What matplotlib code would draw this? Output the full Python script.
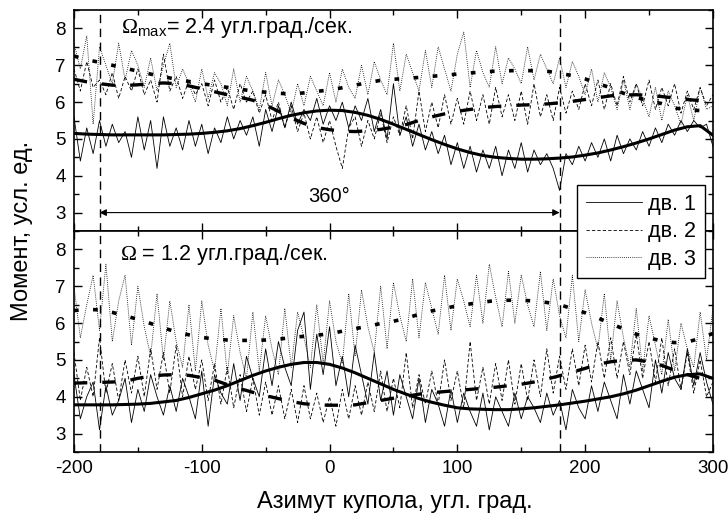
import numpy as np
import matplotlib
matplotlib.use("Agg")
import matplotlib.pyplot as plt
from matplotlib.ticker import MultipleLocator

plt.rcParams['font.family'] = ['Liberation Sans', 'DejaVu Sans']
plt.rcParams['mathtext.fontset'] = 'custom'
plt.rcParams['mathtext.rm'] = 'Liberation Serif'
plt.rcParams['mathtext.sf'] = 'Liberation Sans'
plt.rcParams['axes.unicode_minus'] = False

# азимут для шумных записей (шаг 5 град) и для сглаженных кривых (шаг 10 град)
az_raw = np.arange(-200, 301, 5)
az_fit = np.arange(-200, 301, 10)

# --- верхняя панель: Omega_max = 2.4 ---
top_dv1 = [5.6, 4.4, 5.3, 4.6, 5.5, 4.8, 5.4, 4.9, 5.2, 4.5, 5.6, 4.7, 5.5, 4.2, 5.6, 4.8, 5.3, 4.7,
           5.5, 4.8, 5.4, 4.6, 5.3, 4.9, 5.6, 5.0, 5.5, 5.1, 5.6, 4.8, 5.8, 5.2, 5.9, 5.3, 6.0, 5.4,
           5.8, 5.5, 6.1, 5.4, 5.9, 5.5, 6.0, 5.3, 5.9, 5.5, 6.1, 5.2, 5.8, 5.0, 6.5, 5.1, 5.6, 4.8,
           5.4, 4.7, 5.2, 4.6, 5.1, 4.3, 4.9, 4.2, 4.8, 4.1, 4.7, 4.2, 4.8, 4.0, 4.7, 4.2, 4.9, 4.1,
           4.7, 4.3, 4.6, 4.2, 3.6, 4.6, 4.3, 4.8, 4.4, 4.9, 4.5, 5.0, 4.4, 5.1, 4.6, 5.0, 4.7, 5.2,
           4.8, 5.3, 4.9, 5.4, 5.1, 5.5, 5.2, 5.5, 5.3, 5.4, 4.8]
top_dv2 = [6.9, 6.3, 7.1, 6.4, 6.6, 6.2, 6.8, 6.1, 6.7, 6.3, 6.9, 6.2, 6.6, 6.0, 7.3, 6.3, 6.7, 6.1,
           6.6, 6.2, 6.5, 5.9, 6.6, 6.0, 6.4, 5.8, 6.5, 6.0, 6.3, 5.7, 6.2, 5.5, 6.0, 5.3, 5.9, 5.2,
           5.7, 5.0, 5.6, 4.9, 5.5, 4.8, 4.2, 5.3, 5.6, 4.8, 5.5, 5.0, 5.7, 4.9, 5.6, 5.1, 5.9, 5.0,
           6.3, 5.2, 6.0, 5.3, 6.2, 5.4, 6.1, 5.4, 6.3, 5.5, 6.2, 5.4, 6.4, 5.6, 6.2, 5.5, 6.3, 5.4,
           6.5, 5.6, 6.2, 5.5, 6.4, 5.7, 6.3, 5.8, 6.5, 5.9, 6.6, 5.8, 6.5, 5.9, 6.7, 6.0, 6.5, 5.9,
           6.6, 5.8, 6.4, 5.9, 6.5, 5.7, 6.3, 5.8, 6.4, 5.9, 6.2]
top_dv3 = [7.6, 6.9, 7.8, 5.4, 7.5, 7.0, 6.5, 7.6, 6.6, 7.4, 7.0, 6.4, 7.2, 6.3, 7.0, 7.6, 6.4, 6.9,
           6.5, 6.0, 6.9, 6.1, 6.8, 6.5, 5.9, 6.9, 6.0, 6.7, 6.3, 5.8, 6.8, 5.9, 6.6, 6.2, 5.7, 6.5,
           5.9, 6.7, 6.3, 5.9, 6.8, 6.0, 6.9, 6.4, 6.1, 7.0, 6.2, 7.1, 6.6, 6.2, 7.6, 6.3, 7.3, 6.8,
           6.3, 7.4, 6.4, 7.5, 6.9, 6.3, 7.3, 7.9, 6.4, 7.4, 6.8, 6.4, 7.5, 6.5, 7.2, 6.9, 6.5, 7.5,
           6.6, 7.3, 6.9, 6.5, 7.2, 6.4, 7.1, 6.7, 6.2, 6.9, 6.0, 6.8, 6.4, 5.8, 6.6, 5.8, 6.5, 6.1,
           5.6, 6.4, 5.5, 6.3, 5.9, 5.4, 6.2, 5.5, 6.4, 5.8, 5.9]
top_dv1_fit = [5.15, 5.13, 5.12, 5.11, 5.11, 5.11, 5.11, 5.11, 5.12, 5.13, 5.15, 5.18, 5.22, 5.28,
               5.36, 5.45, 5.55, 5.64, 5.71, 5.76, 5.78, 5.77, 5.72, 5.64, 5.53, 5.40, 5.26, 5.12,
               4.98, 4.85, 4.73, 4.63, 4.55, 4.50, 4.47, 4.45, 4.45, 4.46, 4.48, 4.51, 4.56, 4.62,
               4.70, 4.79, 4.89, 5.00, 5.12, 5.24, 5.33, 5.36, 5.10]
top_dv2_fit = [6.62, 6.55, 6.50, 6.46, 6.45, 6.47, 6.50, 6.52, 6.50, 6.44, 6.36, 6.28, 6.20, 6.13,
               6.05, 5.92, 5.75, 5.57, 5.42, 5.31, 5.25, 5.21, 5.20, 5.22, 5.26, 5.32, 5.39, 5.50,
               5.60, 5.68, 5.75, 5.80, 5.85, 5.88, 5.90, 5.92, 5.93, 5.95, 5.98, 6.02, 6.07, 6.12,
               6.17, 6.19, 6.20, 6.18, 6.15, 6.11, 6.07, 6.04, 6.02]
top_dv3_fit = [7.25, 7.15, 7.08, 7.00, 6.92, 6.84, 6.76, 6.69, 6.62, 6.56, 6.50, 6.45, 6.40, 6.35,
               6.30, 6.27, 6.24, 6.22, 6.25, 6.29, 6.33, 6.39, 6.46, 6.53, 6.59, 6.62, 6.64, 6.67,
               6.70, 6.73, 6.76, 6.79, 6.82, 6.84, 6.85, 6.86, 6.85, 6.84, 6.78, 6.72, 6.63, 6.50,
               6.39, 6.24, 6.13, 6.03, 5.96, 5.84, 5.79, 5.77, 5.85]

# --- нижняя панель: Omega = 1.2 ---
bot_dv1 = [4.6, 3.4, 4.0, 4.4, 3.1, 4.3, 3.5, 3.9, 4.5, 3.3, 4.2, 3.6, 4.6, 4.0, 3.5, 4.3, 3.6, 4.5,
           4.0, 3.4, 4.7, 3.2, 4.6, 4.1, 3.8, 4.9, 3.9, 5.1, 4.5, 4.0, 5.3, 4.3, 5.5, 4.8, 4.3, 5.8,
           6.3, 4.2, 5.7, 4.6, 5.9, 4.3, 5.1, 4.0, 5.4, 4.6, 3.8, 5.2, 3.9, 4.7, 3.5, 4.6, 4.0, 3.4,
           4.5, 3.3, 4.2, 3.8, 3.2, 4.2, 3.3, 4.1, 3.6, 3.2, 4.1, 3.1, 4.0, 3.6, 3.2, 4.1, 3.4, 4.0,
           3.7, 3.3, 4.1, 3.5, 3.9, 3.1, 4.2, 3.7, 3.4, 4.3, 3.6, 4.4, 3.9, 3.4, 4.6, 3.8, 4.7, 4.2,
           3.7, 5.0, 4.1, 5.2, 4.5, 4.2, 5.3, 4.3, 5.2, 4.4, 3.8]
bot_dv2 = [5.2, 3.9, 4.8, 4.0, 5.6, 4.1, 4.9, 3.9, 5.0, 4.1, 5.1, 4.0, 5.3, 4.2, 5.2, 4.1, 5.4, 4.0,
           5.1, 4.2, 5.0, 3.9, 4.9, 3.8, 4.8, 3.7, 4.6, 3.6, 4.5, 3.5, 4.4, 3.5, 4.3, 3.4, 4.2, 3.3,
           4.3, 3.4, 4.1, 3.3, 4.0, 3.2, 4.2, 3.4, 4.3, 3.5, 4.4, 3.6, 4.7, 3.6, 4.5, 3.7, 5.2, 3.7,
           4.6, 3.8, 4.7, 3.8, 5.0, 3.9, 4.7, 3.7, 5.5, 3.9, 4.8, 3.8, 4.9, 3.9, 5.0, 3.8, 4.9, 3.9,
           5.0, 4.0, 5.3, 4.1, 5.1, 4.2, 5.3, 4.3, 5.4, 4.4, 5.5, 4.5, 5.6, 4.5, 5.5, 4.6, 5.7, 4.5,
           5.5, 4.4, 5.6, 4.3, 5.3, 4.2, 5.2, 4.1, 5.0, 4.0, 4.4]
bot_dv3 = [7.0, 5.6, 6.5, 7.3, 5.8, 7.6, 5.5, 6.6, 7.3, 5.4, 7.0, 5.9, 5.1, 6.8, 5.0, 6.6, 5.5, 4.8,
           6.5, 4.7, 6.6, 5.4, 4.7, 6.4, 4.6, 6.2, 5.2, 4.5, 6.3, 4.7, 6.2, 5.3, 4.6, 6.4, 4.8, 6.3,
           5.6, 4.8, 6.5, 4.9, 6.6, 5.5, 4.9, 6.8, 5.1, 6.9, 5.9, 5.2, 7.0, 5.3, 7.1, 6.2, 5.5, 7.2,
           5.6, 7.1, 6.4, 5.7, 7.3, 5.8, 7.2, 6.6, 5.9, 7.3, 6.0, 7.6, 6.7, 5.9, 7.4, 6.0, 7.3, 6.5,
           5.9, 7.4, 5.8, 7.2, 6.2, 5.6, 7.3, 5.5, 6.9, 6.0, 5.3, 6.8, 5.0, 6.6, 5.6, 4.8, 6.4, 4.7,
           6.2, 5.4, 4.6, 6.1, 4.7, 6.0, 5.3, 4.8, 6.3, 5.0, 6.4]
bot_dv1_fit = [3.78, 3.78, 3.78, 3.78, 3.79, 3.80, 3.82, 3.86, 3.90, 3.98, 4.08, 4.18, 4.30, 4.44,
               4.58, 4.70, 4.80, 4.88, 4.93, 4.93, 4.88, 4.78, 4.65, 4.50, 4.35, 4.20, 4.07, 3.95,
               3.85, 3.77, 3.70, 3.67, 3.66, 3.65, 3.65, 3.67, 3.70, 3.74, 3.78, 3.83, 3.88, 3.94,
               4.00, 4.08, 4.18, 4.30, 4.42, 4.53, 4.60, 4.62, 4.50]
bot_dv2_fit = [4.37, 4.38, 4.39, 4.40, 4.42, 4.50, 4.56, 4.59, 4.60, 4.58, 4.52, 4.45, 4.33, 4.22,
               4.12, 4.03, 3.95, 3.87, 3.81, 3.78, 3.77, 3.77, 3.78, 3.84, 3.90, 3.96, 4.01, 4.07,
               4.11, 4.14, 4.17, 4.20, 4.23, 4.26, 4.30, 4.34, 4.40, 4.48, 4.57, 4.67, 4.77, 4.88,
               4.95, 4.99, 5.00, 4.95, 4.85, 4.72, 4.60, 4.50, 4.42]
bot_dv3_fit = [6.34, 6.37, 6.36, 6.29, 6.20, 6.10, 5.99, 5.87, 5.76, 5.68, 5.61, 5.57, 5.54, 5.53,
               5.53, 5.54, 5.56, 5.61, 5.64, 5.67, 5.71, 5.78, 5.85, 5.91, 5.99, 6.05, 6.13, 6.24,
               6.33, 6.40, 6.47, 6.52, 6.57, 6.61, 6.62, 6.62, 6.60, 6.56, 6.50, 6.39, 6.28, 6.14,
               5.99, 5.84, 5.70, 5.60, 5.51, 5.47, 5.49, 5.58, 5.72]

labels = ['дв. 1', 'дв. 2', 'дв. 3']
raw_styles = ['-', (0, (4, 2.5)), (0, (1, 1.5))]
fit_styles = ['-', (0, (4, 4.5)), (0, (1.3, 4))]
fit_widths = [2.2, 2.4, 2.6]

fig = plt.figure(figsize=(7.28, 5.19), dpi=100)
ax_top = fig.add_axes([0.1016, 0.5549, 0.8777, 0.4258])
ax_bot = fig.add_axes([0.1016, 0.1291, 0.8777, 0.4258])

panels = [
    (ax_top, [top_dv1, top_dv2, top_dv3], [top_dv1_fit, top_dv2_fit, top_dv3_fit]),
    (ax_bot, [bot_dv1, bot_dv2, bot_dv3], [bot_dv1_fit, bot_dv2_fit, bot_dv3_fit]),
]

for ax, raws, fits in panels:
    for i in range(3):
        ax.plot(az_raw, raws[i], color='black', lw=0.6, linestyle=raw_styles[i],
                label=labels[i], zorder=2)
    for i in range(3):
        ax.plot(az_fit, fits[i], color='black', lw=fit_widths[i], linestyle=fit_styles[i],
                zorder=3)
    # границы одного оборота купола
    for xv in (-180, 180):
        ax.axvline(xv, color='black', lw=1.0, linestyle=(0, (6, 4)), zorder=4)
    ax.set_xlim(-200, 300)
    ax.set_ylim(2.5, 8.5)
    ax.xaxis.set_major_locator(MultipleLocator(100))
    ax.xaxis.set_minor_locator(MultipleLocator(50))
    ax.yaxis.set_major_locator(MultipleLocator(1))
    ax.yaxis.set_minor_locator(MultipleLocator(0.5))
    ax.tick_params(which='both', direction='in', top=True, right=True, labelsize=13.5, pad=6)
    ax.tick_params(which='major', length=6, width=1)
    ax.tick_params(which='minor', length=3.5, width=1)
    for sp in ax.spines.values():
        sp.set_linewidth(1.2)

ax_top.tick_params(labelbottom=False)

ax_top.text(-163, 8.03, r'$\Omega_{\mathsf{max}}$= 2.4 угл.град./сек.', fontsize=15.5, va='center')
ax_bot.text(-164, 7.85, r'$\Omega$ = 1.2 угл.град./сек.', fontsize=15.5, va='center')

ax_top.annotate('', xy=(-180, 3.0), xytext=(180, 3.0),
                arrowprops=dict(arrowstyle='<|-|>', lw=0.8, color='black',
                                mutation_scale=10, shrinkA=0, shrinkB=0), zorder=5)
ax_top.text(0, 3.45, '360°', fontsize=14.5, ha='center', va='center')

fig.text(0.543, 0.033, 'Азимут купола, угл. град.', fontsize=17, ha='center', va='center')
fig.text(0.03, 0.555, 'Момент, усл. ед.', rotation=90, fontsize=17, ha='center', va='center')

handles, _ = ax_top.get_legend_handles_labels()
leg = fig.legend(handles, labels, loc='upper right', bbox_to_anchor=(0.968, 0.6435),
                 fontsize=15.5, handlelength=2.6, handletextpad=0.3, fancybox=False,
                 edgecolor='black', framealpha=1, borderpad=0.4, labelspacing=0.3,
                 borderaxespad=0)
leg.get_frame().set_linewidth(1.0)
leg.set_zorder(10)

fig.savefig('out.png', dpi=100)
